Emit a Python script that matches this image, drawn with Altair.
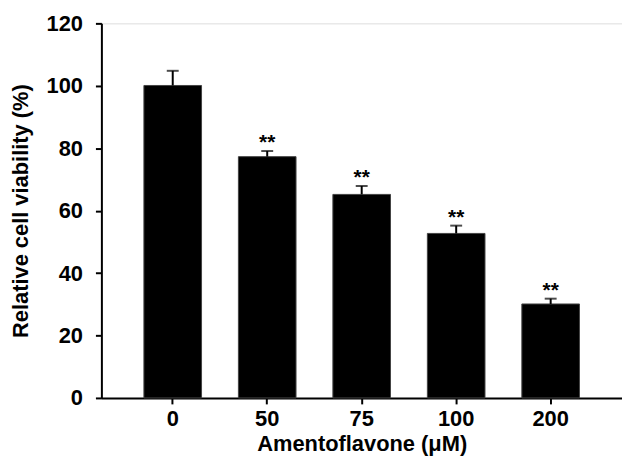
import altair as alt
import pandas as pd

doses = ["0", "50", "75", "100", "200"]
viability = [100.1, 77.3, 65.2, 52.7, 30.1]
err = [4.7, 1.8, 2.7, 2.5, 1.7]
stars = ["", "**", "**", "**", "**"]

df = pd.DataFrame({
    "dose": doses,
    "v": viability,
    "top": [a + b for a, b in zip(viability, err)],
    "star": stars,
})

FONT = "Liberation Sans"
FS = 22

x = alt.X("dose:N", sort=doses, title="Amentoflavone (μM)",
          scale=alt.Scale(paddingInner=0.39, paddingOuter=0.45),
          axis=alt.Axis(labelAngle=0, labelFontSize=FS, labelFont=FONT, labelFontWeight="bold",
                        titleFontSize=FS, titleFont=FONT, titleFontWeight="bold",
                        labelColor="black", titleColor="black",
                        domainColor="black", domainWidth=2, tickColor="black", tickWidth=2,
                        tickSize=6, labelPadding=5, titlePadding=4))
y_scale = alt.Scale(domain=[0, 120], nice=False)

base = alt.Chart(df)

bars = base.mark_bar(color="black", stroke="#444", strokeWidth=1).encode(
    x=x,
    y=alt.Y("v:Q", scale=y_scale, title="Relative cell viability (%)",
            axis=alt.Axis(values=[0, 20, 40, 60, 80, 100, 120], grid=False,
                          labelFontSize=FS, labelFont=FONT, labelFontWeight="bold",
                          titleFontSize=FS, titleFont=FONT, titleFontWeight="bold",
                          labelColor="black", titleColor="black",
                          domainColor="black", domainWidth=2, tickColor="black", tickWidth=2,
                          tickSize=6, labelPadding=13, titlePadding=14)),
)

rule = base.mark_rule(color="black", strokeWidth=2).encode(
    x=alt.X("dose:N", sort=doses),
    y=alt.Y("v:Q", scale=y_scale),
    y2="top:Q",
)

cap = base.mark_tick(color="black", thickness=2, size=12).encode(
    x=alt.X("dose:N", sort=doses),
    y=alt.Y("top:Q", scale=y_scale),
)

txt = base.mark_text(font=FONT, fontSize=21, fontWeight="bold", color="black",
                     baseline="alphabetic", dy=-2).encode(
    x=alt.X("dose:N", sort=doses),
    y=alt.Y("top:Q", scale=y_scale),
    text="star:N",
)

chart = alt.layer(bars, rule, cap, txt).properties(
    width=524, height=377,
    autosize=alt.AutoSizeParams(type="none"),
    padding={"left": 94, "top": 14, "right": 0, "bottom": 60},
).configure_view(stroke=None).configure(background="white")

chart.save("out.html", embed_options={"renderer": "svg", "actions": False})
